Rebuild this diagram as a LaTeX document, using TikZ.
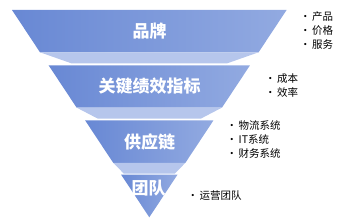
\documentclass[tikz,border=0pt]{standalone}
\usepackage{fontspec}
\newfontfamily\cjk{Noto Sans CJK SC}
\usepackage{tikz}
\usepackage{xcolor}
\definecolor{tierL}{RGB}{104,136,212}
\definecolor{tierR}{RGB}{146,170,225}
\definecolor{rim}{RGB}{182,198,236}

\begin{document}
\begin{tikzpicture}[x=1pt, y=-1pt,
  tier/.style={left color=tierL, right color=tierR, draw=none},
  band/.style={fill=rim, draw=none},
  label/.style={font=\cjk\bfseries\fontsize{17}{17}\selectfont, text=white, inner sep=0pt},
  notes/.style={anchor=west, align=left, inner sep=0pt, font=\cjk\fontsize{10.5}{14}\selectfont}
]
\useasboundingbox (0,0) rectangle (350,224);
% funnel tiers
\shade[tier] (12.0,10) -- (286.6,10) -- (258.6,52.3) -- (40.0,52.3) -- cycle;
\fill[band] (40.0,52.3) -- (258.6,52.3) -- (227.3,63.3) -- (71.3,63.3) -- cycle;
\shade[tier] (48.6,65.3) -- (250.0,65.3) -- (222.0,107.6) -- (76.6,107.6) -- cycle;
\fill[band] (76.6,107.6) -- (222.0,107.6) -- (200.9,118.6) -- (97.7,118.6) -- cycle;
\shade[tier] (85.2,120.5) -- (213.4,120.5) -- (185.4,162.8) -- (113.2,162.8) -- cycle;
\fill[band] (113.2,162.8) -- (185.4,162.8) -- (174.9,173.5) -- (123.7,173.5) -- cycle;
\shade[tier] (121.0,174.5) -- (177.6,174.5) -- (149.3,217.3) -- cycle;
% labels
\node[label] (t1) at (149.5,31.5) {品牌};
\node[label] (t2) at (149.5,86.5) {关键绩效指标};
\node[label] (t3) at (149.5,142.5) {供应链};
\node[label] (t4) at (148.5,188.5) {团队};
% notes
\newcommand{\itm}[1]{\makebox[12pt][l]{•}#1}
\node[notes] (p1) at (300,30.5) {\itm{产品}\\\itm{价格}\\\itm{服务}};
\node[notes] (p2) at (265,85.7) {\itm{成本}\\\itm{效率}};
\node[notes] (p3) at (226.5,139.8) {\itm{物流系统}\\\itm{IT系统}\\\itm{财务系统}};
\node[notes] (p4) at (187.5,195.3) {\itm{运营团队}};
\end{tikzpicture}
\end{document}
